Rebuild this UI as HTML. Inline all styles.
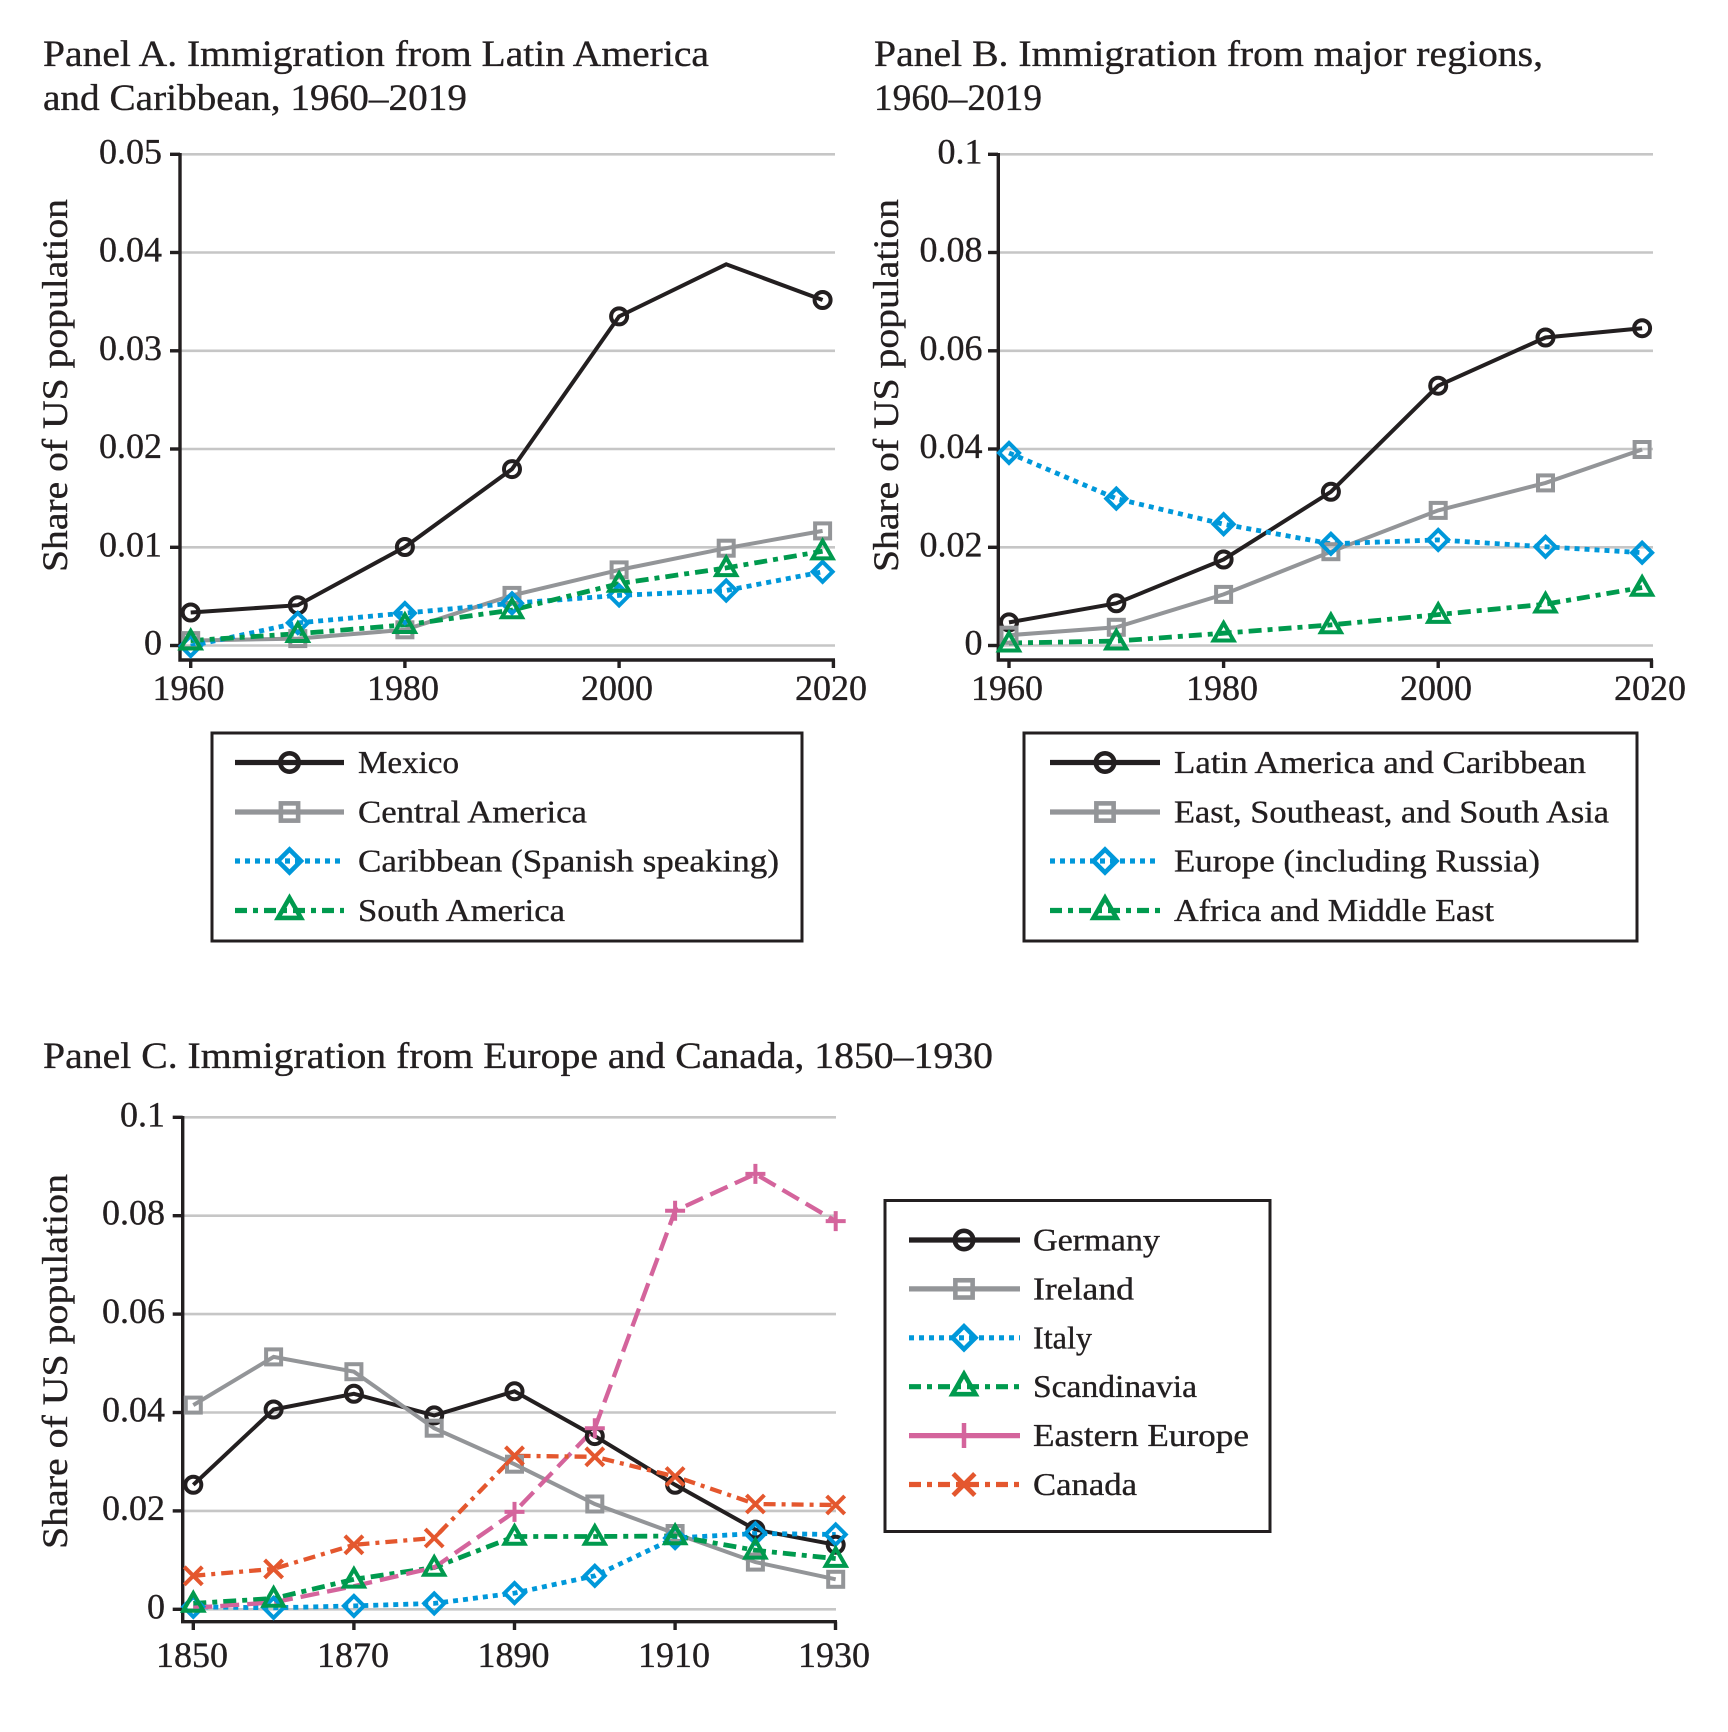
<!DOCTYPE html>
<html>
<head>
<meta charset="utf-8">
<style>
html,body{margin:0;padding:0;background:#fff;}
svg{display:block;}
text{font-family:"Liberation Serif","DejaVu Serif",serif;fill:#231f20;stroke:#231f20;stroke-width:0.35;}
</style>
</head>
<body>
<svg width="1728" height="1732" viewBox="0 0 1728 1732" xmlns="http://www.w3.org/2000/svg">
<defs>
  <circle id="mc" cx="0" cy="0" r="8" fill="none" stroke="#231f20" stroke-width="4"/>
  <rect id="ms" x="-7.5" y="-7.5" width="15" height="15" fill="none" stroke="#939598" stroke-width="4"/>
  <path id="md" d="M0,-10 L10,0 L0,10 L-10,0 Z" fill="none" stroke="#0098da" stroke-width="4"/>
  <path id="mt" d="M0,-11 L10,6.5 L-10,6.5 Z" fill="none" stroke="#009a4e" stroke-width="4" stroke-linejoin="miter"/>
  <path id="mp" d="M-10,0 H10 M0,-10 V10" fill="none" stroke="#d4649c" stroke-width="4"/>
  <path id="mx" d="M-9,-9 L9,9 M-9,9 L9,-9" fill="none" stroke="#e4572e" stroke-width="4"/>
</defs>

<!-- ================= TITLES ================= -->
<text x="43" y="66" font-size="37" textLength="666" lengthAdjust="spacingAndGlyphs">Panel A. Immigration from Latin America</text>
<text x="43" y="110" font-size="37" textLength="424" lengthAdjust="spacingAndGlyphs">and Caribbean, 1960–2019</text>
<text x="874" y="66" font-size="37" textLength="669" lengthAdjust="spacingAndGlyphs">Panel B. Immigration from major regions,</text>
<text x="874" y="110" font-size="37" textLength="168" lengthAdjust="spacingAndGlyphs">1960–2019</text>
<text x="43" y="1068" font-size="37" textLength="950" lengthAdjust="spacingAndGlyphs">Panel C. Immigration from Europe and Canada, 1850–1930</text>

<!-- Y axis labels -->
<text transform="translate(67,385.5) rotate(-90)" text-anchor="middle" font-size="36" textLength="373" lengthAdjust="spacingAndGlyphs">Share of US population</text>
<text transform="translate(898,385.5) rotate(-90)" text-anchor="middle" font-size="36" textLength="373" lengthAdjust="spacingAndGlyphs">Share of US population</text>
<text transform="translate(67,1361.5) rotate(-90)" text-anchor="middle" font-size="36" textLength="375" lengthAdjust="spacingAndGlyphs">Share of US population</text>

<!-- ================= PANEL A ================= -->
<g stroke="#c6c6c6" stroke-width="2.6">
  <line x1="181" y1="154.3" x2="835" y2="154.3"/>
  <line x1="181" y1="252.5" x2="835" y2="252.5"/>
  <line x1="181" y1="350.8" x2="835" y2="350.8"/>
  <line x1="181" y1="449" x2="835" y2="449"/>
  <line x1="181" y1="547.3" x2="835" y2="547.3"/>
  <line x1="181" y1="645.5" x2="835" y2="645.5"/>
</g>
<g stroke="#231f20" stroke-width="3.4" fill="none">
  <polyline points="180,153 180,660 835,660"/>
  <line x1="170" y1="154.3" x2="180" y2="154.3"/>
  <line x1="170" y1="252.5" x2="180" y2="252.5"/>
  <line x1="170" y1="350.8" x2="180" y2="350.8"/>
  <line x1="170" y1="449" x2="180" y2="449"/>
  <line x1="170" y1="547.3" x2="180" y2="547.3"/>
  <line x1="170" y1="645.5" x2="180" y2="645.5"/>
  <line x1="190.7" y1="660" x2="190.7" y2="668"/>
  <line x1="404.9" y1="660" x2="404.9" y2="668"/>
  <line x1="619.1" y1="660" x2="619.1" y2="668"/>
  <line x1="833.4" y1="660" x2="833.4" y2="668"/>
</g>
<g font-size="36" text-anchor="end">
  <text x="162" y="163.3">0.05</text>
  <text x="162" y="261.5">0.04</text>
  <text x="162" y="359.8">0.03</text>
  <text x="162" y="458">0.02</text>
  <text x="162" y="556.3">0.01</text>
  <text x="162" y="654.5">0</text>
</g>
<g font-size="36" text-anchor="middle">
  <text x="188.5" y="700">1960</text>
  <text x="403" y="700">1980</text>
  <text x="617" y="700">2000</text>
  <text x="831" y="700">2020</text>
</g>
<!-- series A -->
<polyline fill="none" stroke="#231f20" stroke-width="4" points="190.7,612.5 297.8,605.2 404.9,547.0 512.0,469.1 619.1,316.4 726.2,264.3 822.6,300.0"/>
<polyline fill="none" stroke="#939598" stroke-width="4" points="190.7,640.6 297.8,638.6 404.9,629.8 512.0,595.4 619.1,569.9 726.2,548.2 822.6,530.9"/>
<polyline fill="none" stroke="#0098da" stroke-width="4.8" stroke-dasharray="5 5" points="190.7,646 297.8,622.9 404.9,613.1 512.0,603.3 619.1,595.4 726.2,590.5 822.6,571.8"/>
<polyline fill="none" stroke="#009a4e" stroke-width="4.8" stroke-dasharray="13 6 5 6" points="190.7,640.6 297.8,633.7 404.9,624.9 512.0,610.1 619.1,583.6 726.2,567.9 822.6,551.2"/>
<g>
  <use href="#mc" x="190.7" y="612.5"/><use href="#mc" x="297.8" y="605.2"/><use href="#mc" x="404.9" y="547.0"/><use href="#mc" x="512.0" y="469.1"/><use href="#mc" x="619.1" y="316.4"/><use href="#mc" x="822.6" y="300.0"/>
  <use href="#ms" x="190.7" y="640.6"/><use href="#ms" x="297.8" y="638.6"/><use href="#ms" x="404.9" y="629.8"/><use href="#ms" x="512.0" y="595.4"/><use href="#ms" x="619.1" y="569.9"/><use href="#ms" x="726.2" y="548.2"/><use href="#ms" x="822.6" y="530.9"/>
  <use href="#md" x="190.7" y="646"/><use href="#md" x="297.8" y="622.9"/><use href="#md" x="404.9" y="613.1"/><use href="#md" x="512.0" y="603.3"/><use href="#md" x="619.1" y="595.4"/><use href="#md" x="726.2" y="590.5"/><use href="#md" x="822.6" y="571.8"/>
  <use href="#mt" x="190.7" y="642"/><use href="#mt" x="297.8" y="634.5"/><use href="#mt" x="404.9" y="625.5"/><use href="#mt" x="512.0" y="610.8"/><use href="#mt" x="619.1" y="584.3"/><use href="#mt" x="726.2" y="568.6"/><use href="#mt" x="822.6" y="551.9"/>
</g>

<!-- Legend A -->
<rect x="212" y="733" width="590" height="208" fill="#fff" stroke="#231f20" stroke-width="3"/>
<line x1="235" y1="762.5" x2="344" y2="762.5" stroke="#231f20" stroke-width="5.2"/>
<use href="#mc" x="289.5" y="762.5" transform="translate(289.5,762.5) scale(1.15) translate(-289.5,-762.5)"/>
<line x1="235" y1="812" x2="344" y2="812" stroke="#939598" stroke-width="5.2"/>
<use href="#ms" x="289.5" y="812" transform="translate(289.5,812) scale(1.15) translate(-289.5,-812)"/>
<line x1="235" y1="861" x2="344" y2="861" stroke="#0098da" stroke-width="5.2" stroke-dasharray="5 5"/>
<use href="#md" x="289.5" y="861" transform="translate(289.5,861) scale(1.15) translate(-289.5,-861)"/>
<line x1="235" y1="910.5" x2="344" y2="910.5" stroke="#009a4e" stroke-width="5.2" stroke-dasharray="12 6 5 6"/>
<use href="#mt" x="289.5" y="910.5" transform="translate(289.5,910.5) scale(1.15) translate(-289.5,-910.5)"/>
<g font-size="32">
  <text x="358" y="773" textLength="101" lengthAdjust="spacingAndGlyphs">Mexico</text>
  <text x="358" y="822.5" textLength="229" lengthAdjust="spacingAndGlyphs">Central America</text>
  <text x="358" y="871.5" textLength="421" lengthAdjust="spacingAndGlyphs">Caribbean (Spanish speaking)</text>
  <text x="358" y="921" textLength="207" lengthAdjust="spacingAndGlyphs">South America</text>
</g>

<!-- ================= PANEL B ================= -->
<g stroke="#c6c6c6" stroke-width="2.6">
  <line x1="999" y1="154.3" x2="1653" y2="154.3"/>
  <line x1="999" y1="252.5" x2="1653" y2="252.5"/>
  <line x1="999" y1="350.8" x2="1653" y2="350.8"/>
  <line x1="999" y1="449" x2="1653" y2="449"/>
  <line x1="999" y1="547.3" x2="1653" y2="547.3"/>
  <line x1="999" y1="645.5" x2="1653" y2="645.5"/>
</g>
<g stroke="#231f20" stroke-width="3.4" fill="none">
  <polyline points="998.3,153 998.3,660 1653,660"/>
  <line x1="988" y1="154.3" x2="998" y2="154.3"/>
  <line x1="988" y1="252.5" x2="998" y2="252.5"/>
  <line x1="988" y1="350.8" x2="998" y2="350.8"/>
  <line x1="988" y1="449" x2="998" y2="449"/>
  <line x1="988" y1="547.3" x2="998" y2="547.3"/>
  <line x1="988" y1="645.5" x2="998" y2="645.5"/>
  <line x1="1009" y1="660" x2="1009" y2="668"/>
  <line x1="1223.6" y1="660" x2="1223.6" y2="668"/>
  <line x1="1438.2" y1="660" x2="1438.2" y2="668"/>
  <line x1="1651.5" y1="660" x2="1651.5" y2="668"/>
</g>
<g font-size="36" text-anchor="end">
  <text x="982.5" y="163.3">0.1</text>
  <text x="982.5" y="261.5">0.08</text>
  <text x="982.5" y="359.8">0.06</text>
  <text x="982.5" y="458">0.04</text>
  <text x="982.5" y="556.3">0.02</text>
  <text x="982.5" y="654.5">0</text>
</g>
<g font-size="36" text-anchor="middle">
  <text x="1007" y="700">1960</text>
  <text x="1222" y="700">1980</text>
  <text x="1436" y="700">2000</text>
  <text x="1650" y="700">2020</text>
</g>
<polyline fill="none" stroke="#231f20" stroke-width="4" points="1009,622.4 1116.3,603.3 1223.6,559.5 1330.9,491.8 1438.2,385.7 1545.5,337.5 1642.1,328.2"/>
<polyline fill="none" stroke="#939598" stroke-width="4" points="1009,635.2 1116.3,627.3 1223.6,594.4 1330.9,551.7 1438.2,510.4 1545.5,482.9 1642.1,449.5"/>
<polyline fill="none" stroke="#0098da" stroke-width="4.8" stroke-dasharray="5 5" points="1009,452.9 1116.3,498.6 1223.6,524.2 1330.9,543.8 1438.2,539.9 1545.5,546.8 1642.1,552.7"/>
<polyline fill="none" stroke="#009a4e" stroke-width="4.8" stroke-dasharray="13 6 5 6" points="1009,643.0 1116.3,641.1 1223.6,633.2 1330.9,624.9 1438.2,614.6 1545.5,604.2 1642.1,587.5"/>
<g>
  <use href="#mc" x="1009" y="622.4"/><use href="#mc" x="1116.3" y="603.3"/><use href="#mc" x="1223.6" y="559.5"/><use href="#mc" x="1330.9" y="491.8"/><use href="#mc" x="1438.2" y="385.7"/><use href="#mc" x="1545.5" y="337.5"/><use href="#mc" x="1642.1" y="328.2"/>
  <use href="#ms" x="1009" y="635.2"/><use href="#ms" x="1116.3" y="627.3"/><use href="#ms" x="1223.6" y="594.4"/><use href="#ms" x="1330.9" y="551.7"/><use href="#ms" x="1438.2" y="510.4"/><use href="#ms" x="1545.5" y="482.9"/><use href="#ms" x="1642.1" y="449.5"/>
  <use href="#md" x="1009" y="452.9"/><use href="#md" x="1116.3" y="498.6"/><use href="#md" x="1223.6" y="524.2"/><use href="#md" x="1330.9" y="543.8"/><use href="#md" x="1438.2" y="539.9"/><use href="#md" x="1545.5" y="546.8"/><use href="#md" x="1642.1" y="552.7"/>
  <use href="#mt" x="1009" y="644"/><use href="#mt" x="1116.3" y="642"/><use href="#mt" x="1223.6" y="634"/><use href="#mt" x="1330.9" y="625.7"/><use href="#mt" x="1438.2" y="615.4"/><use href="#mt" x="1545.5" y="605"/><use href="#mt" x="1642.1" y="588.3"/>
</g>

<!-- Legend B -->
<rect x="1024" y="733" width="613" height="208" fill="#fff" stroke="#231f20" stroke-width="3"/>
<line x1="1050" y1="762.5" x2="1160" y2="762.5" stroke="#231f20" stroke-width="5.2"/>
<use href="#mc" x="1105" y="762.5" transform="translate(1105,762.5) scale(1.15) translate(-1105,-762.5)"/>
<line x1="1050" y1="812" x2="1160" y2="812" stroke="#939598" stroke-width="5.2"/>
<use href="#ms" x="1105" y="812" transform="translate(1105,812) scale(1.15) translate(-1105,-812)"/>
<line x1="1050" y1="861" x2="1160" y2="861" stroke="#0098da" stroke-width="5.2" stroke-dasharray="5 5"/>
<use href="#md" x="1105" y="861" transform="translate(1105,861) scale(1.15) translate(-1105,-861)"/>
<line x1="1050" y1="910.5" x2="1160" y2="910.5" stroke="#009a4e" stroke-width="5.2" stroke-dasharray="12 6 5 6"/>
<use href="#mt" x="1105" y="910.5" transform="translate(1105,910.5) scale(1.15) translate(-1105,-910.5)"/>
<g font-size="32">
  <text x="1174" y="773" textLength="412" lengthAdjust="spacingAndGlyphs">Latin America and Caribbean</text>
  <text x="1174" y="822.5" textLength="435" lengthAdjust="spacingAndGlyphs">East, Southeast, and South Asia</text>
  <text x="1174" y="871.5" textLength="366" lengthAdjust="spacingAndGlyphs">Europe (including Russia)</text>
  <text x="1174" y="921" textLength="320" lengthAdjust="spacingAndGlyphs">Africa and Middle East</text>
</g>

<!-- ================= PANEL C ================= -->
<g stroke="#c6c6c6" stroke-width="2.6">
  <line x1="184" y1="1117.3" x2="836" y2="1117.3"/>
  <line x1="184" y1="1215.7" x2="836" y2="1215.7"/>
  <line x1="184" y1="1314.1" x2="836" y2="1314.1"/>
  <line x1="184" y1="1412.5" x2="836" y2="1412.5"/>
  <line x1="184" y1="1510.9" x2="836" y2="1510.9"/>
  <line x1="184" y1="1609.3" x2="836" y2="1609.3"/>
</g>
<g stroke="#231f20" stroke-width="3.4" fill="none">
  <polyline points="182.7,1116 182.7,1621.7 837,1621.7"/>
  <line x1="172.7" y1="1117.3" x2="182.7" y2="1117.3"/>
  <line x1="172.7" y1="1215.7" x2="182.7" y2="1215.7"/>
  <line x1="172.7" y1="1314.1" x2="182.7" y2="1314.1"/>
  <line x1="172.7" y1="1412.5" x2="182.7" y2="1412.5"/>
  <line x1="172.7" y1="1510.9" x2="182.7" y2="1510.9"/>
  <line x1="172.7" y1="1609.3" x2="182.7" y2="1609.3"/>
  <line x1="193.3" y1="1621.7" x2="193.3" y2="1630"/>
  <line x1="353.9" y1="1621.7" x2="353.9" y2="1630"/>
  <line x1="514.5" y1="1621.7" x2="514.5" y2="1630"/>
  <line x1="675.1" y1="1621.7" x2="675.1" y2="1630"/>
  <line x1="835.5" y1="1621.7" x2="835.5" y2="1630"/>
</g>
<g font-size="36" text-anchor="end">
  <text x="165" y="1126.3">0.1</text>
  <text x="165" y="1224.7">0.08</text>
  <text x="165" y="1323.1">0.06</text>
  <text x="165" y="1421.5">0.04</text>
  <text x="165" y="1519.9">0.02</text>
  <text x="165" y="1618.3">0</text>
</g>
<g font-size="36" text-anchor="middle">
  <text x="192" y="1667">1850</text>
  <text x="353" y="1667">1870</text>
  <text x="513.5" y="1667">1890</text>
  <text x="674" y="1667">1910</text>
  <text x="834" y="1667">1930</text>
</g>
<polyline fill="none" stroke="#231f20" stroke-width="4" points="193.3,1484.8 273.6,1409.5 353.9,1393.8 434.2,1415.4 514.5,1391.3 594.8,1436.1 675.1,1484.8 755.4,1529.6 835.7,1544.8"/>
<polyline fill="none" stroke="#939598" stroke-width="4" points="193.3,1405.1 273.6,1356.9 353.9,1371.7 434.2,1428.2 514.5,1464.2 594.8,1504.0 675.1,1533.5 755.4,1562.1 835.7,1579.3"/>
<polyline fill="none" stroke="#0098da" stroke-width="4.8" stroke-dasharray="5 5" points="193.3,1606.8 273.6,1607.8 353.9,1605.9 434.2,1603.4 514.5,1593.1 594.8,1575.8 675.1,1538 755.4,1533.5 835.7,1534.5"/>
<polyline fill="none" stroke="#009a4e" stroke-width="4.8" stroke-dasharray="13 6 5 6" points="193.3,1603.4 273.6,1598.5 353.9,1579.3 434.2,1567.5 514.5,1536.5 594.8,1536.5 675.1,1536.0 755.4,1550.3 835.7,1558.6"/>
<polyline fill="none" stroke="#d4649c" stroke-width="4.3" stroke-dasharray="19 8" points="193.3,1607.8 273.6,1602.4 353.9,1586.2 434.2,1567.5 514.5,1511.9 594.8,1428.2 675.1,1210.8 755.4,1173.9 835.7,1221.1"/>
<polyline fill="none" stroke="#e4572e" stroke-width="4.3" stroke-dasharray="12 6 4 6" points="193.3,1575.8 273.6,1568.9 353.9,1544.8 434.2,1538.0 514.5,1455.8 594.8,1456.8 675.1,1476.5 755.4,1504.0 835.7,1505.0"/>
<g>
  <use href="#mc" x="193.3" y="1484.8"/><use href="#mc" x="273.6" y="1409.5"/><use href="#mc" x="353.9" y="1393.8"/><use href="#mc" x="434.2" y="1415.4"/><use href="#mc" x="514.5" y="1391.3"/><use href="#mc" x="594.8" y="1436.1"/><use href="#mc" x="675.1" y="1484.8"/><use href="#mc" x="755.4" y="1529.6"/><use href="#mc" x="835.7" y="1544.8"/>
  <use href="#ms" x="193.3" y="1405.1"/><use href="#ms" x="273.6" y="1356.9"/><use href="#ms" x="353.9" y="1371.7"/><use href="#ms" x="434.2" y="1428.2"/><use href="#ms" x="514.5" y="1464.2"/><use href="#ms" x="594.8" y="1504.0"/><use href="#ms" x="675.1" y="1533.5"/><use href="#ms" x="755.4" y="1562.1"/><use href="#ms" x="835.7" y="1579.3"/>
  <use href="#md" x="193.3" y="1606.8"/><use href="#md" x="273.6" y="1607.8"/><use href="#md" x="353.9" y="1605.9"/><use href="#md" x="434.2" y="1603.4"/><use href="#md" x="514.5" y="1593.1"/><use href="#md" x="594.8" y="1575.8"/><use href="#md" x="675.1" y="1538"/><use href="#md" x="755.4" y="1533.5"/><use href="#md" x="835.7" y="1534.5"/>
  <use href="#mt" x="193.3" y="1604.2"/><use href="#mt" x="273.6" y="1599.3"/><use href="#mt" x="353.9" y="1580.1"/><use href="#mt" x="434.2" y="1568.3"/><use href="#mt" x="514.5" y="1537.3"/><use href="#mt" x="594.8" y="1537.3"/><use href="#mt" x="675.1" y="1536.8"/><use href="#mt" x="755.4" y="1551.1"/><use href="#mt" x="835.7" y="1559.4"/>
  <use href="#mp" x="514.5" y="1511.9"/><use href="#mp" x="594.8" y="1428.2"/><use href="#mp" x="675.1" y="1210.8"/><use href="#mp" x="755.4" y="1173.9"/><use href="#mp" x="835.7" y="1221.1"/>
  <use href="#mx" x="193.3" y="1575.8"/><use href="#mx" x="273.6" y="1568.9"/><use href="#mx" x="353.9" y="1544.8"/><use href="#mx" x="434.2" y="1538.0"/><use href="#mx" x="514.5" y="1455.8"/><use href="#mx" x="594.8" y="1456.8"/><use href="#mx" x="675.1" y="1476.5"/><use href="#mx" x="755.4" y="1504.0"/><use href="#mx" x="835.7" y="1505.0"/>
</g>

<!-- Legend C -->
<rect x="885" y="1200.5" width="385" height="331" fill="#fff" stroke="#231f20" stroke-width="3"/>
<line x1="909" y1="1240" x2="1020" y2="1240" stroke="#231f20" stroke-width="5.2"/>
<use href="#mc" x="964" y="1240" transform="translate(964,1240) scale(1.15) translate(-964,-1240)"/>
<line x1="909" y1="1288.9" x2="1020" y2="1288.9" stroke="#939598" stroke-width="5.2"/>
<use href="#ms" x="964" y="1288.9" transform="translate(964,1288.9) scale(1.15) translate(-964,-1288.9)"/>
<line x1="909" y1="1337.8" x2="1020" y2="1337.8" stroke="#0098da" stroke-width="5.2" stroke-dasharray="5 5"/>
<use href="#md" x="964" y="1337.8" transform="translate(964,1337.8) scale(1.15) translate(-964,-1337.8)"/>
<line x1="909" y1="1386.7" x2="1020" y2="1386.7" stroke="#009a4e" stroke-width="5.2" stroke-dasharray="12 6 5 6"/>
<use href="#mt" x="964" y="1386.7" transform="translate(964,1386.7) scale(1.15) translate(-964,-1386.7)"/>
<line x1="909" y1="1435.6" x2="1020" y2="1435.6" stroke="#d4649c" stroke-width="5.2"/>
<line x1="964" y1="1423" x2="964" y2="1448" stroke="#d4649c" stroke-width="4.5"/>
<line x1="909" y1="1484.5" x2="1020" y2="1484.5" stroke="#e4572e" stroke-width="5.2" stroke-dasharray="12 6 5 6"/>
<use href="#mx" x="964" y="1484.5" transform="translate(964,1484.5) scale(1.2) translate(-964,-1484.5)"/>
<g font-size="32">
  <text x="1033" y="1250.5" textLength="127" lengthAdjust="spacingAndGlyphs">Germany</text>
  <text x="1033" y="1299.4" textLength="101" lengthAdjust="spacingAndGlyphs">Ireland</text>
  <text x="1033" y="1348.3" textLength="59" lengthAdjust="spacingAndGlyphs">Italy</text>
  <text x="1033" y="1397.2" textLength="164" lengthAdjust="spacingAndGlyphs">Scandinavia</text>
  <text x="1033" y="1446.1" textLength="216" lengthAdjust="spacingAndGlyphs">Eastern Europe</text>
  <text x="1033" y="1495" textLength="104" lengthAdjust="spacingAndGlyphs">Canada</text>
</g>
</svg>
</body>
</html>
